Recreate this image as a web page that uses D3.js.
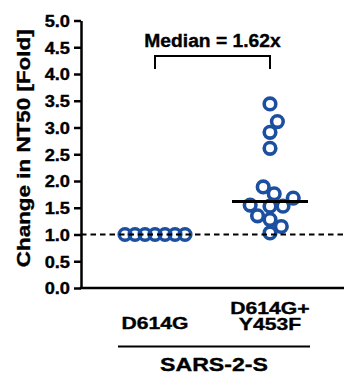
<!DOCTYPE html>
<html>
<head>
<meta charset="utf-8">
<script src="https://cdn.jsdelivr.net/npm/d3@7"></script>
<style>
  body { margin: 0; background: #fff; }
  svg text { font-family: "Liberation Sans", Arial, sans-serif; font-weight: bold; fill: #000;
             stroke: #000; stroke-width: 0.35px; }
</style>
</head>
<body>
<div class="display"></div>
<script>
// data
const groups = ["D614G", "D614G+Y453F"];
const groupLabels = [["D614G"], ["D614G+", "Y453F"]];
const d614g = [1, 1, 1, 1, 1, 1, 1];
const d614gY453f = [3.44, 3.11, 2.91, 2.61, 1.89, 1.76, 1.68, 1.53, 1.53, 1.55, 1.35, 1.28, 1.15, 1.03];
const yTicks = [0, 0.5, 1, 1.5, 2, 2.5, 3, 3.5, 4, 4.5, 5];
const baseline = 1;
const medianText = "Median = 1.62x";
const groupTitle = "SARS-2-S";
const yTitle = "Change in NT50 [Fold]";

const width = 344, height = 374;
const margin = { top: 20.5, bottom: 86, left: 81 };
const blue = "#1c4f9f";

const svg = d3.select(".display").append("svg")
  .attr("width", width)
  .attr("height", height);

const y = d3.scaleLinear().domain([0, 5]).range([height - margin.bottom, margin.top]);
const x = d3.scalePoint().domain(groups).range([155, 270]);

// text looks wider than Arial in the original, stretch it a bit
function stretch(sel, k) {
  sel.each(function() {
    const w = this.getComputedTextLength();
    d3.select(this).attr("textLength", w * k).attr("lengthAdjust", "spacingAndGlyphs");
  });
}

// simple greedy beeswarm: lowest value first, closest free slot to the center
function swarm(values, sep) {
  const order = d3.range(values.length).sort((a, b) => values[a] - values[b]);
  const placed = [];
  const offs = [];
  for (const i of order) {
    const py = y(values[i]);
    const near = placed.filter(p => Math.abs(p.y - py) < sep);
    const cands = [0];
    near.forEach(p => {
      const dx = Math.sqrt(sep * sep - (p.y - py) ** 2);
      cands.push(p.x + dx, p.x - dx);
    });
    cands.sort((a, b) => Math.abs(a) - Math.abs(b) || b - a);
    const c = cands.find(c => near.every(p => (p.x - c) ** 2 + (p.y - py) ** 2 >= sep * sep - 1e-6));
    offs[i] = c;
    placed.push({ x: c, y: py });
  }
  return offs;
}

const series = [d614g, d614gY453f];
const spacing = [10, 13];
const points = [];
series.forEach((vals, gi) => {
  const offs = swarm(vals, spacing[gi]);
  vals.forEach((v, i) => points.push({ group: groups[gi], value: v, dx: offs[i] }));
});

// y axis
const yAxis = d3.axisLeft(y)
  .tickValues(yTicks)
  .tickFormat(d3.format(".1f"))
  .tickSize(7)
  .tickSizeOuter(0)
  .tickPadding(4);

const yAxisGroup = svg.append("g")
  .attr("transform", `translate(${margin.left}, 0)`)
  .call(yAxis);
yAxisGroup.selectAll("path, line").attr("stroke", "#000").attr("stroke-width", 2.5);
yAxisGroup.selectAll("text")
  .attr("font-size", 16)
  .attr("font-family", null)
  .attr("dy", "0.36em")
  .call(stretch, 1.14);

// x axis line
svg.append("line")
  .attr("x1", margin.left - 1.2).attr("x2", width)
  .attr("y1", y(0)).attr("y2", y(0))
  .attr("stroke", "#000").attr("stroke-width", 2.5);

// points
svg.selectAll(".dot")
  .data(points)
  .join("circle")
  .attr("class", "dot")
  .attr("cx", d => x(d.group) + d.dx)
  .attr("cy", d => y(d.value))
  .attr("r", 5.8)
  .attr("fill", "none")
  .attr("stroke", blue)
  .attr("stroke-width", 3.6);

// reference line at 1
svg.append("line")
  .attr("x1", margin.left).attr("x2", width)
  .attr("y1", y(baseline)).attr("y2", y(baseline))
  .attr("stroke", "#000").attr("stroke-width", 2)
  .attr("stroke-dasharray", "5.5,4");

// median bars (only where they differ from the baseline)
const medians = series.map((vals, gi) => ({ group: groups[gi], value: d3.median(vals) }))
  .filter(d => d.value !== baseline);
svg.selectAll(".median")
  .data(medians)
  .join("line")
  .attr("class", "median")
  .attr("x1", d => x(d.group) - 38)
  .attr("x2", d => x(d.group) + 38)
  .attr("y1", d => y(d.value))
  .attr("y2", d => y(d.value))
  .attr("stroke", "#000")
  .attr("stroke-width", 3);

// bracket + median label
const bx1 = x(groups[0]), bx2 = x(groups[1]);
svg.append("path")
  .attr("d", `M${bx1},69V56H${bx2}V69`)
  .attr("fill", "none")
  .attr("stroke", "#000")
  .attr("stroke-width", 2);
svg.append("text")
  .attr("x", (bx1 + bx2) / 2)
  .attr("y", 47)
  .attr("text-anchor", "middle")
  .attr("font-size", 17.5)
  .text(medianText)
  .call(stretch, 1.1);

// category labels
const catLabels = svg.selectAll(".cat")
  .data(groups)
  .join("text")
  .attr("class", "cat")
  .attr("text-anchor", "middle")
  .attr("font-size", 16.5);
catLabels.each(function(d, i) {
  const lines = groupLabels[i];
  const sel = d3.select(this);
  lines.forEach((t, j) => {
    sel.append("tspan")
      .attr("x", x(d))
      .attr("y", lines.length === 1 ? 329 : 313.5 + j * 16.8)
      .text(t)
      .call(stretch, 1.28);
  });
});

// group bar + title
svg.append("line")
  .attr("x1", x(groups[0]) - 37).attr("x2", x(groups[1]) + 40)
  .attr("y1", 346.5).attr("y2", 346.5)
  .attr("stroke", "#000").attr("stroke-width", 2);
svg.append("text")
  .attr("x", (x(groups[0]) - 37 + x(groups[1]) + 40) / 2)
  .attr("y", 371)
  .attr("text-anchor", "middle")
  .attr("font-size", 18.5)
  .text(groupTitle)
  .call(stretch, 1.25);

// y title
svg.append("text")
  .attr("transform", `translate(30, ${(y(0) + y(5)) / 2 - 6}) rotate(-90)`)
  .attr("text-anchor", "middle")
  .attr("font-size", 19)
  .text(yTitle)
  .call(stretch, 1.18);
</script>
</body>
</html>
